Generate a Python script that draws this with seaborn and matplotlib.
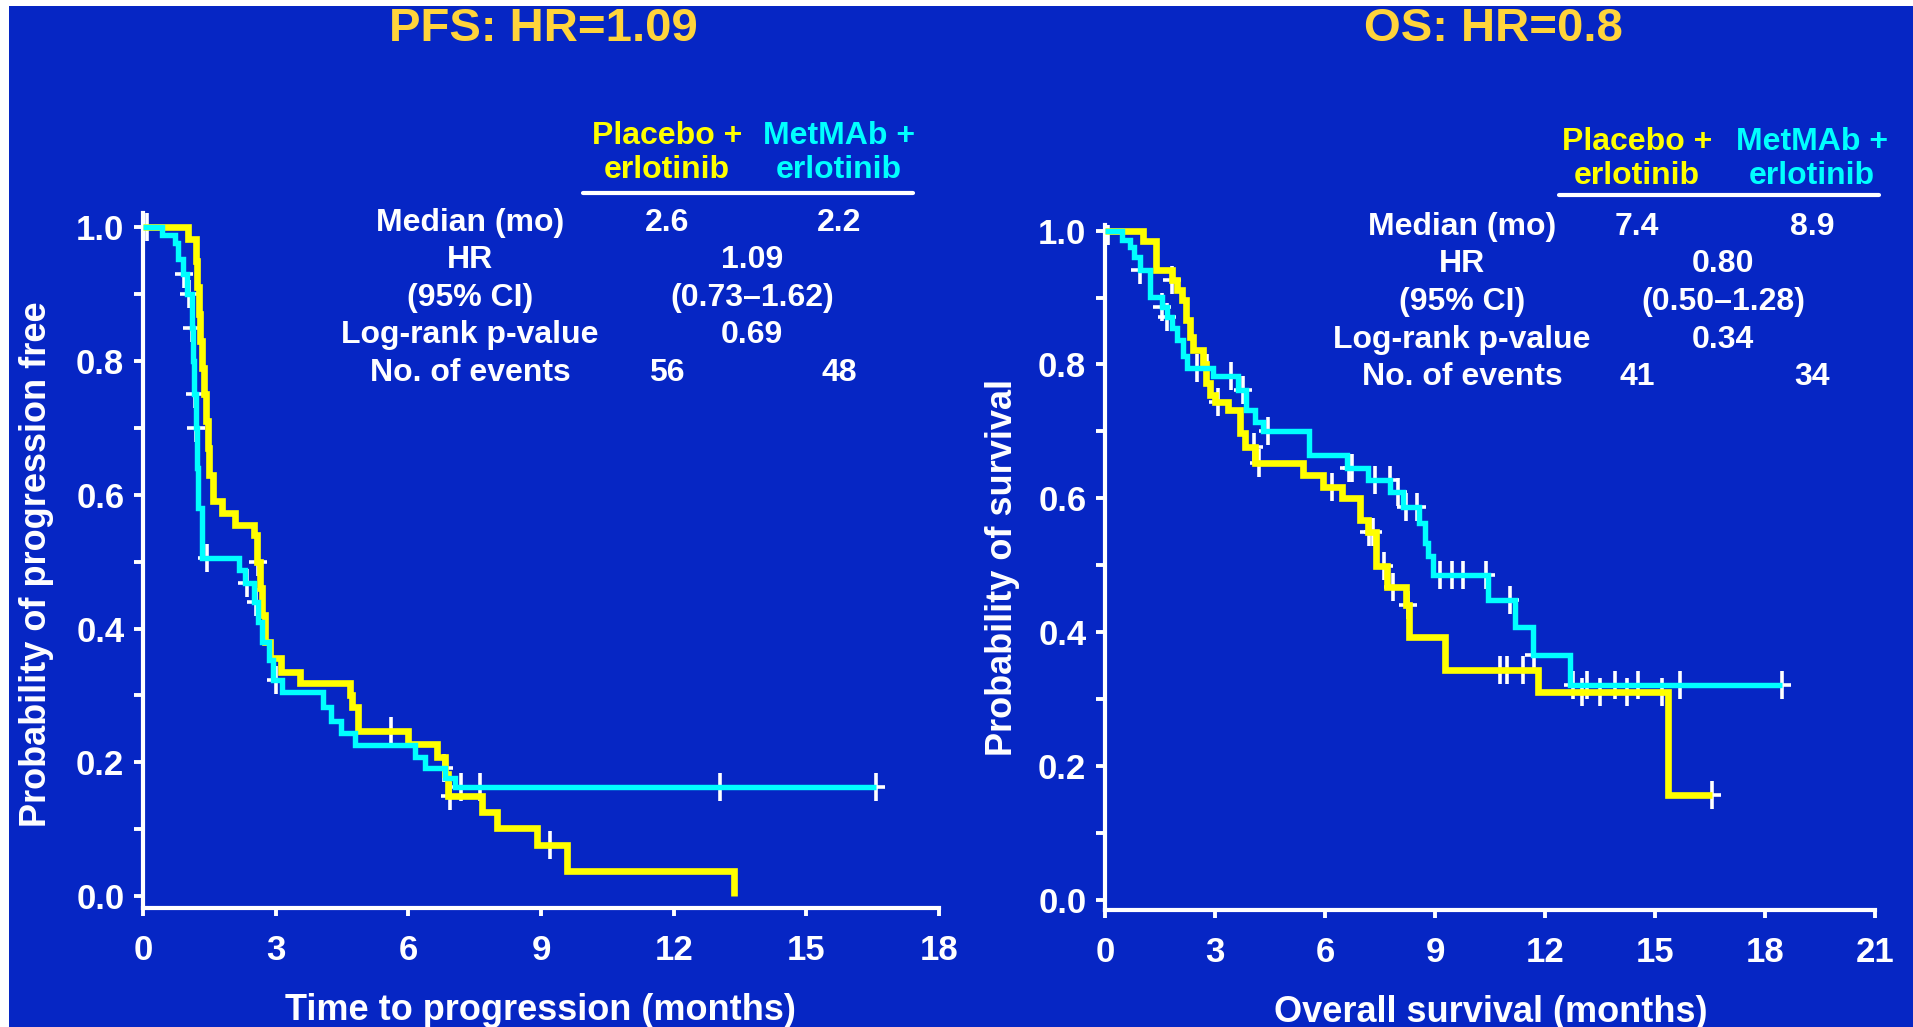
import numpy as np
import pandas as pd
import matplotlib
matplotlib.use('Agg')
import matplotlib.pyplot as plt
import seaborn as sns
from matplotlib.lines import Line2D
from matplotlib.patches import Rectangle

# ---------------- data ----------------
pfs_pla_t = [0, 1.02, 1.20, 1.23, 1.26, 1.30, 1.34, 1.38, 1.42, 1.46, 1.50, 1.58, 1.78, 2.07,
             2.52, 2.58, 2.64, 2.70, 2.76, 2.87, 3.13, 3.55, 4.68, 4.72, 4.87, 6.00, 6.64,
             6.83, 6.90, 7.66, 8.00, 8.91, 9.59, 13.36]
pfs_pla_s = [1.0, 0.983, 0.95, 0.91, 0.87, 0.83, 0.79, 0.75, 0.71, 0.67, 0.63, 0.59, 0.572, 0.555,
             0.54, 0.50, 0.46, 0.42, 0.38, 0.356, 0.335, 0.318, 0.30, 0.283, 0.247, 0.227, 0.208,
             0.183, 0.15, 0.126, 0.101, 0.076, 0.038, 0.0]
pfs_met_t = [0, 0.42, 0.72, 0.80, 0.90, 1.00, 1.10, 1.13, 1.16, 1.19, 1.22, 1.25, 1.33, 2.17, 2.30,
             2.50, 2.60, 2.70, 2.84, 2.95, 3.14, 4.08, 4.25, 4.47, 4.80, 6.15, 6.37, 6.83, 7.06, 16.58]
pfs_met_s = [1.0, 0.988, 0.976, 0.952, 0.93, 0.90, 0.85, 0.80, 0.75, 0.70, 0.64, 0.58, 0.505, 0.487,
             0.468, 0.44, 0.41, 0.38, 0.353, 0.323, 0.305, 0.283, 0.262, 0.244, 0.226, 0.208, 0.191,
             0.177, 0.163, 0.163]
pfs_pla_cens = [2.60, 5.60, 6.95, 9.20]
pfs_met_cens = [0.08, 0.93, 1.05, 1.11, 1.17, 1.20, 1.45, 2.35, 2.55, 3.00, 6.80, 7.20, 7.62, 13.05, 16.58]

os_pla_t = [0, 1.04, 1.40, 1.82, 1.95, 2.09, 2.20, 2.32, 2.41, 2.68, 2.75, 2.86, 3.00, 3.36, 3.68,
            3.82, 4.09, 5.41, 5.95, 6.45, 6.95, 7.18, 7.40, 7.68, 8.22, 8.30, 9.27, 11.82, 15.36, 16.56]
os_pla_s = [1.0, 0.984, 0.941, 0.926, 0.911, 0.896, 0.867, 0.841, 0.822, 0.80, 0.772, 0.754, 0.744,
            0.732, 0.697, 0.677, 0.652, 0.635, 0.617, 0.60, 0.568, 0.55, 0.498, 0.468, 0.44, 0.393,
            0.343, 0.311, 0.156, 0.156]
os_met_t = [0, 0.45, 0.68, 0.80, 0.95, 1.23, 1.55, 1.68, 1.82, 1.95, 2.14, 2.23, 2.95, 3.63, 3.85,
            4.09, 4.32, 5.55, 6.60, 7.18, 7.77, 8.14, 8.55, 8.73, 8.82, 8.95, 10.45, 11.18, 11.68,
            12.68, 18.45]
os_met_s = [1.0, 0.986, 0.976, 0.96, 0.941, 0.901, 0.886, 0.871, 0.854, 0.837, 0.812, 0.794, 0.782,
            0.762, 0.732, 0.714, 0.70, 0.665, 0.645, 0.627, 0.61, 0.587, 0.563, 0.533, 0.513, 0.485,
            0.448, 0.408, 0.366, 0.321, 0.321]
os_pla_cens = [0.09, 1.84, 3.07, 4.05, 4.20, 6.18, 7.20, 7.30, 7.60, 7.85, 8.25, 10.77, 10.95, 11.40,
               13.00, 13.50, 14.23, 15.18, 16.56]
os_met_cens = [0.95, 1.55, 1.68, 2.50, 2.77, 3.43, 3.75, 4.45, 6.65, 6.73, 7.35, 7.76, 8.00, 8.20,
               8.50, 9.14, 9.45, 9.77, 10.40, 11.04, 11.70, 12.75, 13.14, 13.90, 14.54, 15.68, 18.45]

group_labels = ['Placebo +\nerlotinib', 'MetMAb +\nerlotinib']
row_labels = ['Median (mo)', 'HR', '(95% CI)', 'Log-rank p-value', 'No. of events']
pfs_median = ['2.6', '2.2']
pfs_events = ['56', '48']
pfs_mid = ['1.09', '(0.73\u20131.62)', '0.69']
os_median = ['7.4', '8.9']
os_events = ['41', '34']
os_mid = ['0.80', '(0.50\u20131.28)', '0.34']
titles = ['PFS: HR=1.09', 'OS: HR=0.8']
xlabels = ['Time to progression (months)', 'Overall survival (months)']
ylabels = ['Probability of progression free', 'Probability of survival']
xticks_pfs = [0, 3, 6, 9, 12, 15, 18]
xticks_os = [0, 3, 6, 9, 12, 15, 18, 21]
yticks = [0.0, 0.2, 0.4, 0.6, 0.8, 1.0]

# ---------------- style ----------------
BG = '#0626C4'
YEL = '#FFFF00'
CYN = '#00FFFF'
GOLD = '#FFD43B'
WHITE = 'white'

sns.set_theme(style='ticks')
plt.rcParams['font.family'] = ['Liberation Sans', 'DejaVu Sans']
plt.rcParams['font.weight'] = 'bold'

W, H = 1913, 1027
fig = plt.figure(figsize=(W / 100, H / 100), dpi=100, facecolor='white')
fig.patches.append(Rectangle((9 / W, 0), 1 - 9 / W, 1 - 6 / H, transform=fig.transFigure,
                             facecolor=BG, edgecolor='none', zorder=-10))


def fx(x):
    return x / W


def fy(y):
    return 1 - y / H


def make_axes(x0, x1, y_top, y_bot):
    ax = fig.add_axes([fx(x0), fy(y_bot), (x1 - x0) / W, (y_bot - y_top) / H])
    ax.set_facecolor('none')
    return ax


def step_at(t, s, c):
    t = np.asarray(t)
    s = np.asarray(s)
    idx = np.clip(np.searchsorted(t, np.asarray(c), side='right') - 1, 0, len(s) - 1)
    return s[idx]


def draw_km(ax, t, s, cens, color, lw):
    cy = step_at(t, s, cens)
    sns.scatterplot(x=cens, y=cy, marker='|', s=20 ** 2, color=WHITE, linewidth=2.6,
                    ax=ax, zorder=2, legend=False)
    sns.scatterplot(x=cens, y=cy, marker='_', s=13 ** 2, color=WHITE, linewidth=2.6,
                    ax=ax, zorder=2, legend=False)
    sns.lineplot(x=t, y=s, drawstyle='steps-post', color=color, lw=lw, estimator=None,
                 sort=False, ax=ax, zorder=3, solid_joinstyle='miter', solid_capstyle='butt')


def style_axes(ax, xlim, ylim, xticks):
    ax.set_xlim(*xlim)
    ax.set_ylim(*ylim)
    ax.set_xticks(xticks)
    ax.set_xticklabels([str(v) for v in xticks])
    ax.set_yticks(yticks)
    ax.set_yticklabels([f'{v:.1f}' for v in yticks])
    ax.set_yticks(np.arange(0.1, 1.0, 0.2), minor=True)
    for sp in ['top', 'right']:
        ax.spines[sp].set_visible(False)
    for sp in ['left', 'bottom']:
        ax.spines[sp].set_color(WHITE)
        ax.spines[sp].set_linewidth(3.0)
    ax.tick_params(axis='x', colors=WHITE, width=2.8, length=6, labelsize=25, pad=13,
                   direction='out')
    ax.tick_params(axis='y', which='both', colors=WHITE, width=2.8, length=6.5, labelsize=25,
                   pad=7, direction='out')
    ax.set_xlabel('')
    ax.set_ylabel('')
    for lab in ax.get_xticklabels() + ax.get_yticklabels():
        lab.set_fontweight('bold')


# ---------------- PFS panel ----------------
ax1 = make_axes(143, 939, 212.6, 908)
draw_km(ax1, pfs_pla_t, pfs_pla_s, pfs_pla_cens, YEL, 4.8)
draw_km(ax1, pfs_met_t, pfs_met_s, pfs_met_cens, CYN, 3.9)
style_axes(ax1, (0, 18), (-0.018, 1.022), xticks_pfs)

# ---------------- OS panel ----------------
ax2 = make_axes(1105, 1875, 225.3, 909.7)
draw_km(ax2, os_pla_t, os_pla_s, os_pla_cens, YEL, 4.8)
draw_km(ax2, os_met_t, os_met_s, os_met_cens, CYN, 3.9)
style_axes(ax2, (0, 21), (-0.015, 1.008), xticks_os)

# ---------------- texts ----------------
TS = 23
for title, cx in zip(titles, [543, 1493]):
    fig.text(fx(cx), fy(29), title, color=GOLD, fontsize=34, fontweight='bold',
             ha='center', va='center')
for lab, cx, cy in zip(xlabels, [540, 1491], [1011, 1013]):
    fig.text(fx(cx), fy(cy), lab, color=WHITE, fontsize=26, fontweight='bold',
             ha='center', va='center')
for lab, cx, cy in zip(ylabels, [37, 1003], [564, 567]):
    fig.text(fx(cx), fy(cy), lab, color=WHITE, fontsize=26, fontweight='bold',
             ha='center', va='center', rotation=90)


def table(col_x, mid_x, lab_x, head_y, line_y, line_x, row_y, median, events, mid):
    for g, c, x in zip(group_labels, [YEL, CYN], col_x):
        fig.text(fx(x), fy(head_y), g, color=c, fontsize=TS, fontweight='bold',
                 ha='center', va='center', linespacing=1.2)
    fig.add_artist(Line2D([fx(line_x[0]), fx(line_x[1])], [fy(line_y), fy(line_y)],
                          color=WHITE, lw=3, transform=fig.transFigure))
    for lab, y in zip(row_labels, row_y):
        fig.text(fx(lab_x), fy(y), lab, color=WHITE, fontsize=TS, fontweight='bold',
                 ha='center', va='center')
    for v, x in zip(median, col_x):
        fig.text(fx(x), fy(row_y[0]), v, color=WHITE, fontsize=TS, fontweight='bold',
                 ha='center', va='center')
    for v, x in zip(events, col_x):
        fig.text(fx(x), fy(row_y[4]), v, color=WHITE, fontsize=TS, fontweight='bold',
                 ha='center', va='center')
    for v, y in zip(mid, row_y[1:4]):
        fig.text(fx(mid_x), fy(y), v, color=WHITE, fontsize=TS, fontweight='bold',
                 ha='center', va='center')


table([667, 839], 752, 470, 153, 193, (583, 913), [223, 260, 298, 335, 373],
      pfs_median, pfs_events, pfs_mid)
table([1637, 1812], 1723, 1462, 159, 195, (1559, 1879), [227, 264, 302, 340, 377],
      os_median, os_events, os_mid)

fig.savefig('out.png', dpi=100, facecolor=fig.get_facecolor())
